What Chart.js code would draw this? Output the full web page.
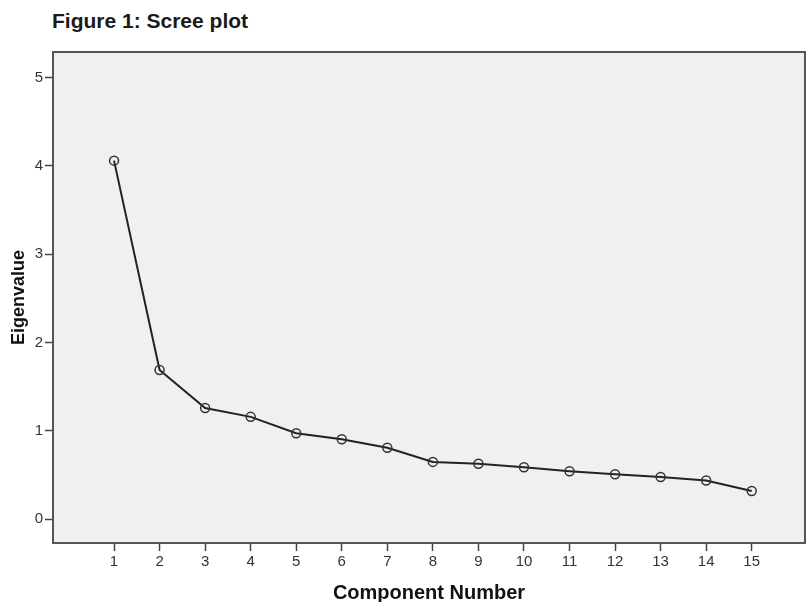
<!DOCTYPE html>
<html>
<head>
<meta charset="utf-8">
<script src="https://cdn.jsdelivr.net/npm/chart.js@4/dist/chart.umd.min.js"></script>
<style>
  html,body{margin:0;padding:0;background:#fff;}
  #wrap{position:relative;width:811px;height:602px;}
  #ttl{position:absolute;left:52px;top:9px;font:bold 21px "Liberation Sans",Arial,sans-serif;color:#1a1a1a;white-space:nowrap;}
  canvas{position:absolute;left:0;top:0;}
</style>
</head>
<body>
<div id="wrap">
  <div id="ttl">Figure 1: Scree plot</div>
  <canvas id="scree" width="811" height="602"></canvas>
</div>
<script>
// scree plot data
const components  = [1,2,3,4,5,6,7,8,9,10,11,12,13,14,15];
const eigenvalues = [4.06,1.69,1.26,1.16,0.974,0.906,0.81,0.65,0.63,0.59,0.545,0.51,0.48,0.44,0.32];
const yTicks      = [0,1,2,3,4,5];

const FONT = '"Liberation Sans",Arial,sans-serif';

// grey plot box with a frame all round
const plotBox = {
  id:'plotBox',
  beforeDraw(chart){
    const {left,top,right,bottom} = chart.chartArea;
    const ctx = chart.ctx;
    ctx.save();
    ctx.fillStyle='#f0f0f0';
    ctx.fillRect(left,top,right-left,bottom-top);
    ctx.restore();
  },
  afterDatasetsDraw(chart){
    const {left,top,right,bottom} = chart.chartArea;
    const ctx = chart.ctx;
    ctx.save();
    ctx.strokeStyle='#555';
    ctx.lineWidth=2;
    ctx.strokeRect(left,top,right-left,bottom-top);
    ctx.restore();
  }
};

new Chart(document.getElementById('scree'), {
  type:'scatter',
  plugins:[plotBox],
  data:{
    datasets:[{
      data:components.map((c,i)=>({x:c,y:eigenvalues[i]})),
      showLine:true,
      borderColor:'#222',
      borderWidth:2,
      pointRadius:4.5,
      pointBorderWidth:1.5,
      pointBorderColor:'#333',
      pointBackgroundColor:'rgba(0,0,0,0)',
      tension:0
    }]
  },
  options:{
    responsive:false, animation:false,
    layout:{padding:{left:0,right:3,top:52,bottom:0}},
    plugins:{legend:{display:false}, tooltip:{enabled:false}},
    scales:{
      x:{
        type:'linear', min:-0.34, max:16.17,
        afterBuildTicks(s){ s.ticks = components.map(v=>({value:v})); },
        afterFit(s){ s.height = 59; },
        grid:{drawOnChartArea:false, tickLength:8, tickColor:'#444', tickWidth:1.5},
        border:{color:'#555', width:2},
        ticks:{color:'#333', font:{family:FONT,size:15}, padding:2, maxRotation:0, autoSkip:false},
        title:{display:true, text:'Component Number', color:'#111',
               font:{family:FONT,size:20,weight:'bold',lineHeight:0.9}, padding:{top:0,bottom:0}}
      },
      y:{
        min:-0.268, max:5.29,
        afterBuildTicks(s){ s.ticks = yTicks.map(v=>({value:v})); },
        afterFit(s){ s.width = 53; },
        grid:{drawOnChartArea:false, tickLength:8, tickColor:'#444', tickWidth:1.5},
        border:{color:'#555', width:2},
        ticks:{color:'#333', font:{family:FONT,size:15}, padding:2},
        title:{display:true, text:'Eigenvalue', color:'#111',
               font:{family:FONT,size:18,weight:'bold',lineHeight:1}, padding:{top:10,bottom:0}}
      }
    }
  }
});
</script>
</body>
</html>
